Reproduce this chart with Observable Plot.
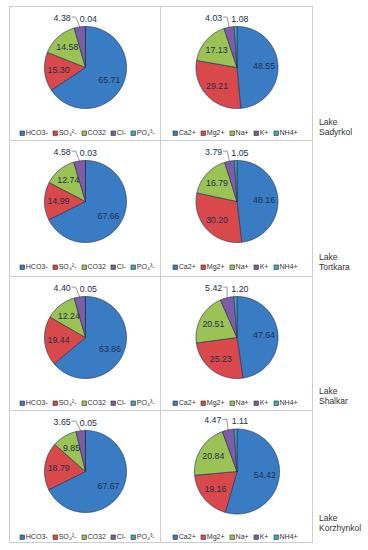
<!DOCTYPE html>
<html><head><meta charset="utf-8">
<script src="https://cdn.jsdelivr.net/npm/d3@7"></script>
<script src="https://cdn.jsdelivr.net/npm/@observablehq/plot@0.6"></script>
<style>
body{margin:0;background:#fff;width:368px;height:550px;overflow:hidden;font-family:"Liberation Sans",Arial,sans-serif}
#wrap{position:relative;width:368px;height:550px;background:#fff}
.panel{position:absolute;border:1px solid #cdcdcd;box-sizing:border-box}
.chart{position:absolute}
.lake{position:absolute;left:319px;font-size:8.5px;line-height:9.5px;color:#333;white-space:nowrap}
.leg{position:absolute;height:8px}
#wrap .lg-swatches{font-size:7.1px;margin:0;min-height:0;color:#333;font-family:"Liberation Sans",Arial,sans-serif}
#wrap .lg-swatches-wrap{min-height:0;flex-wrap:nowrap}
#wrap .lg-swatch{margin-right:5.2px}
#wrap .lg-swatch > svg{margin-right:1.2px}
#wrap .lg-swatch rect{stroke:#333;stroke-width:0.6}
</style></head><body><div id="wrap"></div>
<script>
// ---- data ----
const lakes = ["Sadyrkol", "Tortkara", "Shalkar", "Korzhynkol"];
const anions = ["HCO3-", "SO\u2084\u00b2-", "CO32", "Cl-", "PO\u2084\u00b3-"];
const cations = ["Ca2+", "Mg2+", "Na+", "K+", "NH4+"];
const anionSadyrkol = [65.71, 15.30, 14.58, 4.38, 0.04];
const anionTortkara = [67.66, 14.99, 12.74, 4.58, 0.03];
const anionShalkar = [63.86, 19.44, 12.24, 4.40, 0.05];
const anionKorzhynkol = [67.67, 18.79, 9.85, 3.65, 0.05];
const cationSadyrkol = [48.55, 29.21, 17.13, 4.03, 1.08];
const cationTortkara = [48.16, 30.20, 16.79, 3.79, 1.05];
const cationShalkar = [47.64, 25.23, 20.51, 5.42, 1.20];
const cationKorzhynkol = [54.42, 19.16, 20.84, 4.47, 1.11];

const anionRows = [anionSadyrkol, anionTortkara, anionShalkar, anionKorzhynkol];
const cationRows = [cationSadyrkol, cationTortkara, cationShalkar, cationKorzhynkol];

// ---- style / layout ----
const colors = ["#3a7cc4", "#d9484b", "#9bc255", "#7f5ca6", "#36a8c6"];
const FONT = "'Liberation Sans', Arial, sans-serif";
const cols = [{x: 9, w: 152}, {x: 160, w: 153}];
const rows = [{y: 6, h: 135}, {y: 140, h: 137}, {y: 276, h: 135}, {y: 410, h: 133}];
const lakeTop = [118, 253, 387, 514];

const wrap = document.getElementById("wrap");

function pieChart(values, names, w, h, r, cxOff, cyOff) {
  const arcs = d3.pie().sort(null).value(d => d)(values);
  const marks = [];
  const labels = [];
  const leaders = [];
  arcs.forEach((a, i) => {
    const pts = [{x: 0, y: 0}];
    const n = Math.max(2, Math.ceil((a.endAngle - a.startAngle) / 0.02));
    for (let j = 0; j <= n; j++) {
      const t = a.startAngle + (a.endAngle - a.startAngle) * j / n;
      pts.push({x: Math.sin(t), y: Math.cos(t)});
    }
    pts.push({x: 0, y: 0});
    marks.push(Plot.line(pts, {x: "x", y: "y", fill: colors[i], stroke: "#2a3a58", strokeWidth: 0.7, strokeLinejoin: "miter"}));
    const mid = (a.startAngle + a.endAngle) / 2;
    const txt = a.data.toFixed(2);
    if (a.data >= 6) {
      const k = 0.66;
      labels.push({x: Math.sin(mid) * k, y: Math.cos(mid) * k, t: txt});
    } else if (i === 3) {
      const lx = -0.57, ly = 1.21;
      labels.push({x: lx, y: ly, t: txt});
      leaders.push([{x: lx + 0.24, y: ly + 0.02}, {x: lx + 0.33, y: ly + 0.02}, {x: Math.sin(mid), y: Math.cos(mid)}]);
    } else {
      labels.push({x: 0.07, y: 1.18, t: txt});
    }
  });
  leaders.forEach(l => marks.push(Plot.line(l, {x: "x", y: "y", stroke: "#555", strokeWidth: 0.6})));
  marks.push(Plot.text(labels, {x: "x", y: "y", text: "t", fontSize: 8.8, fill: "#22304a", fontFamily: FONT}));
  return Plot.plot({
    width: w, height: h, margin: 0,
    x: {domain: [-cxOff / r, (w - cxOff) / r], range: [0, w], axis: null},
    y: {domain: [-(h - cyOff) / r, cyOff / r], range: [h, 0], axis: null},
    style: {background: "transparent", overflow: "visible"},
    marks
  });
}

rows.forEach((row, ri) => {
  cols.forEach((col, ci) => {
    const p = document.createElement("div");
    p.className = "panel";
    Object.assign(p.style, {left: col.x + "px", top: row.y + "px", width: col.w + "px", height: row.h + "px"});
    wrap.appendChild(p);
    const vals = ci === 0 ? anionRows[ri] : cationRows[ri];
    const names = ci === 0 ? anions : cations;
    const r = (ci === 1 && ri === 3) ? 42.5 : 41;
    const svg = pieChart(vals, names, col.w, row.h, r, col.w / 2, 61);
    const c = document.createElement("div");
    c.className = "chart";
    Object.assign(c.style, {left: col.x + "px", top: row.y + "px"});
    c.appendChild(svg);
    wrap.appendChild(c);
    const leg = Plot.legend({
      color: {type: "ordinal", domain: names, range: colors},
      legend: "swatches", swatchSize: 4.5, className: "lg"
    });
    const ld = document.createElement("div");
    ld.className = "leg";
    Object.assign(ld.style, {left: (col.x + (ci === 0 ? 11 : 13)) + "px", top: (row.y + 123) + "px"});
    ld.appendChild(leg);
    wrap.appendChild(ld);
  });
  const lk = document.createElement("div");
  lk.className = "lake";
  lk.style.top = lakeTop[ri] + "px";
  lk.innerHTML = "Lake<br>" + lakes[ri];
  wrap.appendChild(lk);
});
</script></body></html>
